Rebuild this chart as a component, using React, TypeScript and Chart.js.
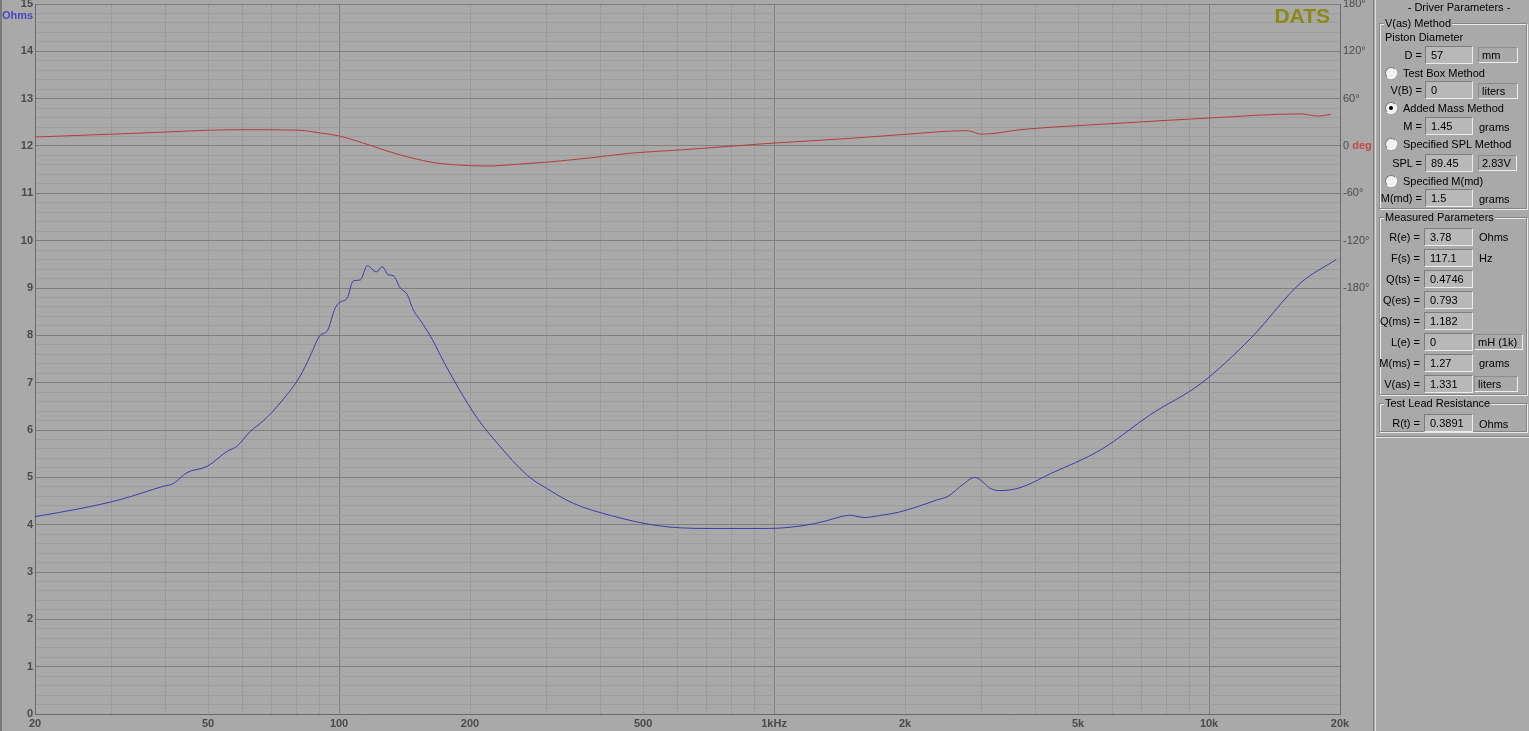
import React, { useEffect, useRef } from "react";
import { Chart, registerables } from "chart.js";
Chart.register(...registerables);

// ---------- data ----------
const impFreq = [20, 25.4, 31.4, 39.4, 41.6, 44.7, 49.7, 55.3, 58.3, 62.5, 66.9, 73.2, 81.4, 85.8, 90.5, 93.9, 98, 100.1, 104.4, 107.8, 111.9, 116.1, 121.8, 125.7, 129.8, 133.2, 138.3, 143.5, 148.1, 155.3, 164.6, 170.9, 188, 207.8, 231.1, 271, 299.7, 345.7, 422.9, 539.6, 688.4, 971, 1166, 1316, 1426, 1491, 1615, 1742, 1928, 2136, 2364, 2512, 2718, 2896, 3022, 3136, 3306, 3676, 4327, 5636, 7345, 9572, 12474, 16255, 19590];
const impOhms = [4.17, 4.34, 4.53, 4.81, 4.87, 5.1, 5.23, 5.55, 5.66, 5.97, 6.19, 6.57, 7.14, 7.56, 8.0, 8.09, 8.58, 8.69, 8.79, 9.15, 9.17, 9.47, 9.34, 9.45, 9.28, 9.26, 9.0, 8.86, 8.54, 8.26, 7.88, 7.58, 6.89, 6.25, 5.72, 5.04, 4.77, 4.45, 4.19, 3.98, 3.92, 3.92, 3.98, 4.08, 4.17, 4.2, 4.15, 4.19, 4.26, 4.38, 4.52, 4.6, 4.85, 5.0, 4.9, 4.77, 4.72, 4.78, 5.08, 5.58, 6.33, 6.98, 7.94, 9.11, 9.6];

const phFreq = [20, 30.2, 40.3, 50, 61.2, 81, 90.5, 100, 113, 129.1, 146.6, 167.3, 187, 218.1, 259.8, 302.8, 378.3, 470, 609, 956, 1507, 2017, 2772, 3001, 3729, 5849, 10092, 16255, 17790, 19060];
const phDeg = [11.4, 15, 17.8, 20, 20.7, 20, 16.5, 12.7, 4.2, -6.4, -15, -21.6, -24, -25.4, -23, -20.3, -15, -9, -5, 3, 9.8, 14.9, 19.5, 14.9, 21, 28, 35.6, 40.7, 38, 40];

const xGridValues = [20, 30, 40, 50, 60, 70, 80, 90, 100, 200, 300, 400, 500, 600, 700, 800, 900, 1000, 2000, 3000, 4000, 5000, 6000, 7000, 8000, 9000, 10000, 20000];
const xMajorValues = [100, 1000, 10000];
const xLabelValues = [20, 50, 100, 200, 500, 1000, 2000, 5000, 10000, 20000];
const xLabelTexts = ["20", "50", "100", "200", "500", "1kHz", "2k", "5k", "10k", "20k"];
const phaseTickValues = [-180, -120, -60, 0, 60, 120, 180];

// panel content
const vasMethods = ["Test Box Method", "Added Mass Method", "Specified SPL Method", "Specified M(md)"];
const measuredLabels = ["R(e) =", "F(s) =", "Q(ts) =", "Q(es) =", "Q(ms) =", "L(e) =", "M(ms) =", "V(as) ="];
const measuredValues = ["3.78", "117.1", "0.4746", "0.793", "1.182", "0", "1.27", "1.331"];
const measuredUnits = ["Ohms", "Hz", "", "", "", "mH (1k)", "grams", "liters"];
const measuredUnitBoxed = [false, false, false, false, false, true, false, true];

const BG = "#a9a9a9";
const FONT = "'Liberation Sans', Arial, sans-serif";

function Txt(p: { x: number; cy: number; text: string; right?: boolean; color?: string; center?: boolean }) {
  const style: any = {
    position: "absolute",
    top: p.cy - 7,
    height: 14,
    lineHeight: "14px",
    whiteSpace: "nowrap",
    color: p.color || "#000",
  };
  if (p.right) {
    style.left = p.x - 120;
    style.width = 120;
    style.textAlign = "right";
  } else if (p.center) {
    style.left = p.x - 100;
    style.width = 200;
    style.textAlign = "center";
  } else {
    style.left = p.x;
  }
  return <div style={style}>{p.text}</div>;
}

function Input(p: { x: number; cy: number; w: number; text: string }) {
  return (
    <div
      style={{
        position: "absolute",
        left: p.x,
        top: p.cy - 9,
        width: p.w,
        height: 18,
        boxSizing: "border-box",
        background: "#b8b8b8",
        borderTop: "1px solid #7c7c7c",
        borderLeft: "1px solid #7c7c7c",
        borderBottom: "1px solid #ececec",
        borderRight: "1px solid #ececec",
        paddingLeft: 5,
        lineHeight: "16px",
        whiteSpace: "nowrap",
      }}
    >
      {p.text}
    </div>
  );
}

function UnitBox(p: { x: number; cy: number; w: number; text: string }) {
  return (
    <div
      style={{
        position: "absolute",
        left: p.x,
        top: p.cy - 8,
        width: p.w,
        height: 16,
        boxSizing: "border-box",
        borderTop: "1px solid #8c8c8c",
        borderLeft: "1px solid #8c8c8c",
        borderBottom: "1px solid #eeeeee",
        borderRight: "1px solid #eeeeee",
        paddingLeft: 3,
        lineHeight: "14px",
        whiteSpace: "nowrap",
      }}
    >
      {p.text}
    </div>
  );
}

function Radio(p: { cx: number; cy: number; checked?: boolean }) {
  return (
    <div
      style={{
        position: "absolute",
        left: p.cx - 6,
        top: p.cy - 6,
        width: 12,
        height: 12,
        boxSizing: "border-box",
        borderRadius: "50%",
        background: "#f2f2f2",
        borderTop: "1px solid #7a7a7a",
        borderLeft: "1px solid #7a7a7a",
        borderBottom: "1px solid #ffffff",
        borderRight: "1px solid #ffffff",
      }}
    >
      {p.checked ? (
        <div style={{ position: "absolute", left: 3, top: 3, width: 4, height: 4, borderRadius: "50%", background: "#000" }} />
      ) : null}
    </div>
  );
}

function Group(p: { x: number; y: number; w: number; h: number; title: string }) {
  return (
    <>
      <div
        style={{
          position: "absolute",
          left: p.x,
          top: p.y,
          width: p.w - 1,
          height: p.h - 1,
          boxSizing: "border-box",
          border: "1px solid #858585",
          boxShadow: "inset 1px 1px 0 #ececec, 1px 1px 0 #ececec",
        }}
      />
      <div
        style={{
          position: "absolute",
          left: p.x + 5,
          top: p.y - 7,
          height: 14,
          lineHeight: "14px",
          padding: "0 1px",
          background: BG,
          whiteSpace: "nowrap",
        }}
      >
        {p.title}
      </div>
    </>
  );
}

const decorPlugin = {
  id: "decor",
  beforeDraw(chart: any) {
    const ctx = chart.ctx;
    ctx.save();
    ctx.fillStyle = BG;
    ctx.fillRect(0, 0, chart.width, chart.height);
    ctx.fillStyle = "#7a7a7a";
    ctx.fillRect(0, 0, 2, chart.height);
    ctx.restore();
  },
  afterDraw(chart: any) {
    const ctx = chart.ctx;
    const area = chart.chartArea;
    const y2 = chart.scales.y2;
    ctx.save();
    // Ohms label
    ctx.font = "bold 11px " + FONT;
    ctx.fillStyle = "#4848c0";
    ctx.textAlign = "left";
    ctx.textBaseline = "middle";
    ctx.fillText("Ohms", 2, 16);
    // deg label
    ctx.font = "11px " + FONT;
    const w0 = ctx.measureText("0 ").width;
    ctx.font = "bold 11px " + FONT;
    ctx.fillStyle = "#c04848";
    ctx.fillText("deg", area.right + 3 + w0, y2.getPixelForValue(0));
    // DATS logo
    ctx.font = "bold 21px " + FONT;
    ctx.fillStyle = "#8a8a12";
    ctx.textAlign = "right";
    ctx.textBaseline = "alphabetic";
    ctx.fillText("DATS", area.right - 10, 23);
    ctx.restore();
  },
};

export default function App() {
  const ref = useRef<HTMLCanvasElement>(null);
  useEffect(() => {
    document.body.style.margin = "0";
    const chart = new Chart(ref.current as HTMLCanvasElement, {
      type: "line",
      data: {
        datasets: [
          {
            label: "Impedance",
            data: impFreq.map((f, i) => ({ x: f, y: impOhms[i] })),
            borderColor: "#3c3cac",
            borderWidth: 1,
            pointRadius: 0,
            cubicInterpolationMode: "monotone",
            yAxisID: "y",
          },
          {
            label: "Phase",
            data: phFreq.map((f, i) => ({ x: f, y: phDeg[i] })),
            borderColor: "#b43c3c",
            borderWidth: 1,
            pointRadius: 0,
            cubicInterpolationMode: "monotone",
            yAxisID: "y2",
          },
        ],
      } as any,
      options: {
        responsive: false,
        animation: false,
        events: [],
        layout: { padding: { top: 4, left: 0, right: 0, bottom: 0 } },
        plugins: { legend: { display: false }, tooltip: { enabled: false } },
        scales: {
          x: {
            type: "logarithmic",
            min: 20,
            max: 20000,
            afterBuildTicks: (s: any) => {
              s.ticks = xGridValues.map((v) => ({ value: v }));
            },
            afterFit: (s: any) => {
              s.height = 17;
              s.paddingLeft = 0;
              s.paddingRight = 0;
            },
            grid: {
              drawTicks: false,
              color: (c: any) => (xMajorValues.includes(c.tick?.value) ? "#808080" : "#9a9a9a"),
              lineWidth: 1,
            },
            border: { color: "#6a6a6a" },
            ticks: {
              autoSkip: false,
              maxRotation: 0,
              padding: 3,
              color: "#4a4a4a",
              font: { family: FONT, size: 11, weight: "bold" },
              callback: (v: any) => {
                const i = xLabelValues.indexOf(Number(v));
                return i >= 0 ? xLabelTexts[i] : "";
              },
            },
          },
          y: {
            type: "linear",
            position: "left",
            min: 0,
            max: 15,
            afterBuildTicks: (s: any) => {
              const t = [];
              for (let i = 0; i <= 75; i++) t.push({ value: i / 5 });
              s.ticks = t;
            },
            afterFit: (s: any) => {
              s.width = 35;
              s.paddingTop = 0;
              s.paddingBottom = 0;
            },
            grid: {
              drawTicks: false,
              color: (c: any) => {
                const v = c.tick?.value ?? 0;
                return Math.abs(v - Math.round(v)) < 1e-6 ? "#7e7e7e" : "#9d9d9d";
              },
            },
            border: { color: "#6a6a6a" },
            ticks: {
              autoSkip: false,
              padding: 2,
              color: "#4a4a4a",
              font: { family: FONT, size: 11, weight: "bold" },
              callback: (v: any) => {
                const n = Number(v);
                return Math.abs(n - Math.round(n)) < 1e-6 ? String(Math.round(n)) : "";
              },
            },
          },
          y2: {
            type: "linear",
            position: "right",
            min: -720,
            max: 180,
            afterBuildTicks: (s: any) => {
              s.ticks = phaseTickValues.map((v) => ({ value: v }));
            },
            afterFit: (s: any) => {
              s.width = 33;
              s.paddingTop = 0;
              s.paddingBottom = 0;
            },
            grid: { drawOnChartArea: false, drawTicks: false },
            border: { color: "#6a6a6a" },
            ticks: {
              autoSkip: false,
              padding: 3,
              color: "#4a4a4a",
              font: { family: FONT, size: 11 },
              callback: (v: any) => (Number(v) === 0 ? "0" : v + "\u00b0"),
            },
          },
        },
      } as any,
      plugins: [decorPlugin],
    });
    return () => chart.destroy();
  }, []);

  const rowsG2 = measuredLabels.map((lab, i) => {
    const cy = 237 + i * 21;
    return (
      <React.Fragment key={lab}>
        <Txt x={1420} cy={cy} text={lab} right />
        <Input x={1424} cy={cy} w={49} text={measuredValues[i]} />
        {measuredUnits[i] ? (
          measuredUnitBoxed[i] ? (
            <UnitBox x={1474} cy={cy} w={measuredUnits[i] === "liters" ? 44 : 49} text={measuredUnits[i]} />
          ) : (
            <Txt x={1479} cy={cy} text={measuredUnits[i]} />
          )
        ) : null}
      </React.Fragment>
    );
  });

  return (
    <div
      style={{
        position: "fixed",
        left: 0,
        top: 0,
        width: 1529,
        height: 731,
        background: BG,
        overflow: "hidden",
        fontFamily: FONT,
        fontSize: 11,
        color: "#000",
      }}
    >
      <canvas ref={ref} width={1373} height={731} style={{ position: "absolute", left: 0, top: 0, width: 1373, height: 731 }} />
      {/* splitter */}
      <div style={{ position: "absolute", left: 1373, top: 0, width: 1, height: 731, background: "#808080" }} />
      <div style={{ position: "absolute", left: 1375, top: 0, width: 1, height: 731, background: "#dcdcdc" }} />
      {/* panel */}
      <Txt x={1459} cy={7} text="- Driver Parameters -" center />
      <Group x={1379} y={23} w={149} h={187} title="V(as) Method" />
      <Txt x={1385} cy={37} text="Piston Diameter" />
      <Txt x={1422} cy={55} text="D =" right />
      <Input x={1425} cy={55} w={48} text="57" />
      <UnitBox x={1478} cy={55} w={40} text="mm" />
      <Radio cx={1391} cy={73} />
      <Txt x={1403} cy={73} text={vasMethods[0]} />
      <Txt x={1422} cy={90} text="V(B) =" right />
      <Input x={1425} cy={90} w={48} text="0" />
      <UnitBox x={1478} cy={91} w={40} text="liters" />
      <Radio cx={1391} cy={108} checked />
      <Txt x={1403} cy={108} text={vasMethods[1]} />
      <Txt x={1422} cy={126} text="M =" right />
      <Input x={1425} cy={126} w={48} text="1.45" />
      <Txt x={1479} cy={127} text="grams" />
      <Radio cx={1391} cy={144} />
      <Txt x={1403} cy={144} text={vasMethods[2]} />
      <Txt x={1422} cy={163} text="SPL =" right />
      <Input x={1425} cy={163} w={48} text="89.45" />
      <UnitBox x={1478} cy={163} w={39} text="2.83V" />
      <Radio cx={1391} cy={181} />
      <Txt x={1403} cy={181} text={vasMethods[3]} />
      <Txt x={1422} cy={198} text="M(md) =" right />
      <Input x={1425} cy={198} w={48} text="1.5" />
      <Txt x={1479} cy={199} text="grams" />

      <Group x={1379} y={217} w={149} h={179} title="Measured Parameters" />
      {rowsG2}

      <Group x={1379} y={403} w={149} h={30} title="Test Lead Resistance" />
      <Txt x={1420} cy={423} text="R(t) =" right />
      <Input x={1424} cy={423} w={49} text="0.3891" />
      <Txt x={1479} cy={424} text="Ohms" />

      <div style={{ position: "absolute", left: 1376, top: 436, width: 153, height: 1, background: "#858585" }} />
      <div style={{ position: "absolute", left: 1376, top: 437, width: 153, height: 1, background: "#e6e6e6" }} />
    </div>
  );
}
